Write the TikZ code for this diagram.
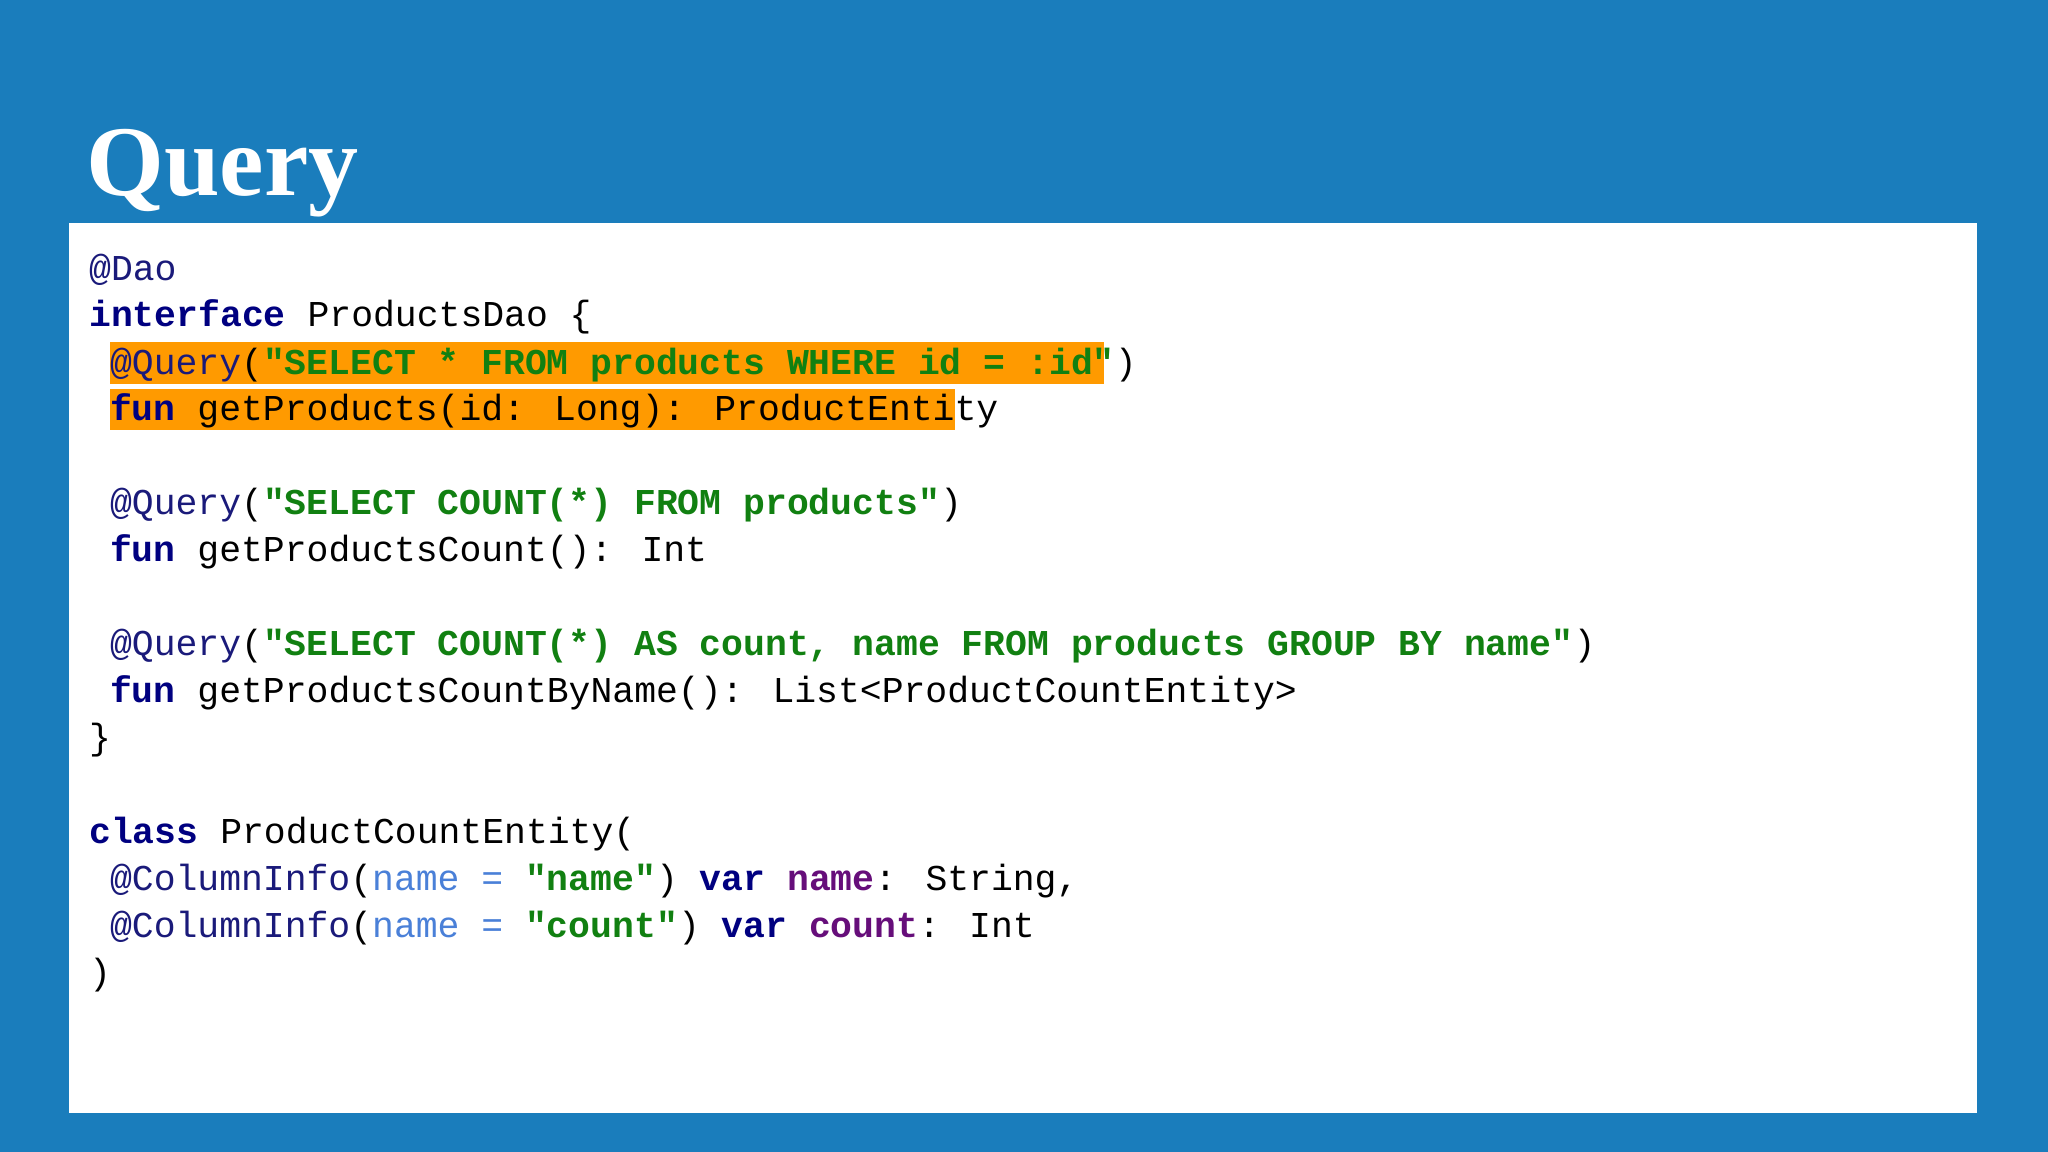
\documentclass[tikz,border=0pt]{standalone}
\usepackage{fontspec}
\newfontfamily\mono{Liberation Mono}
\newfontfamily\titlefont{Liberation Serif}
\definecolor{bg}{HTML}{1A7DBC}
\definecolor{kwc}{HTML}{000080}
\definecolor{strc}{HTML}{118011}
\definecolor{anc}{HTML}{1A1A7A}
\definecolor{pac}{HTML}{4A80D8}
\definecolor{vrc}{HTML}{660E7A}
\definecolor{hl}{HTML}{FF9A00}
\newcommand{\kw}[1]{\textbf{\color{kwc}#1}}
\newcommand{\sq}[1]{\textbf{\color{strc}#1}}
\newcommand{\an}[1]{{\color{anc}#1}}
\newcommand{\pa}[1]{{\color{pac}#1}}
\newcommand{\vr}[1]{\textbf{\color{vrc}#1}}
\begin{document}
\begin{tikzpicture}[x=0.6531pt,y=-0.6531pt,
  code/.style={anchor=base west,inner sep=0pt,font=\mono\fontsize{18.2}{20}\selectfont,text=black}]
\fill[bg] (0,0) rectangle (1568,882);
\fill[white] (53,171) rectangle (1514,852);
\node[anchor=base west,inner sep=0pt,text=white,font=\titlefont\bfseries\fontsize{50}{50}\selectfont] (title) at (66,150) {Query};
\fill[hl] (84,262) rectangle (845,294);
\fill[hl] (84,298) rectangle (731,329);
\node[code] (l1) at (68,215) {\an{@Dao}};
\node[code] (l2) at (68,250) {\kw{interface} ProductsDao \{};
\node[code] (l3) at (84,287) {\an{@Query}(\sq{"SELECT * FROM products WHERE id = :id"})};
\node[code] (l4) at (84,322) {\kw{fun} getProducts(id: Long): ProductEntity};
\node[code] (l5) at (84,394) {\an{@Query}(\sq{"SELECT COUNT(*) FROM products"})};
\node[code] (l6) at (84,430) {\kw{fun} getProductsCount(): Int};
\node[code] (l7) at (84,502) {\an{@Query}(\sq{"SELECT COUNT(*) AS count, name FROM products GROUP BY name"})};
\node[code] (l8) at (84,538) {\kw{fun} getProductsCountByName(): List<ProductCountEntity>};
\node[code] (l9) at (68,574) {\}};
\node[code] (l10) at (68,646) {\kw{class} ProductCountEntity(};
\node[code] (l11) at (84,682) {\an{@ColumnInfo}(\pa{name =} \sq{"name"}) \kw{var} \vr{name}: String,};
\node[code] (l12) at (84,718) {\an{@ColumnInfo}(\pa{name =} \sq{"count"}) \kw{var} \vr{count}: Int};
\node[code] (l13) at (68,754) {)};
\end{tikzpicture}
\end{document}
